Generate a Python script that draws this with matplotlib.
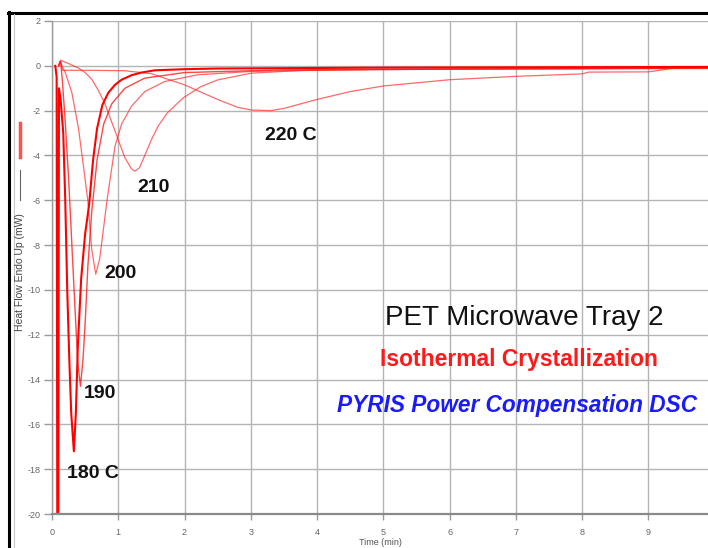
import matplotlib
matplotlib.use("Agg")
import matplotlib.pyplot as plt
from matplotlib.lines import Line2D

plt.rcParams['axes.unicode_minus'] = False
plt.rcParams['font.family'] = ['Liberation Sans', 'DejaVu Sans']

# ---- data ----
t180 = [0.05, 0.07, 0.08, 0.095, 0.105, 0.13, 0.17, 0.20, 0.23, 0.26, 0.29, 0.33, 0.36, 0.39, 0.44, 0.50,
        0.56, 0.62, 0.68, 0.76, 0.85, 0.95, 1.05, 1.2, 1.35, 1.55, 2.0, 2.5, 5.0, 9.9]
hf180 = [0.0, -0.5, -21, -21, -1.0, -1.5, -3.0, -6.0, -10.0, -13.0, -15.5, -17.2, -15.5, -12.5, -9.5, -7.5,
         -6.2, -4.2, -2.8, -1.75, -1.2, -0.85, -0.62, -0.42, -0.3, -0.2, -0.15, -0.12, -0.08, -0.05]

t190 = [0.10, 0.13, 0.16, 0.20, 0.25, 0.30, 0.35, 0.39, 0.43, 0.47, 0.50, 0.54, 0.60, 0.68, 0.78, 0.90,
        1.1, 1.4, 2.0, 3.5, 9.9]
hf190 = [0.0, 0.2, -0.8, -2.5, -5.0, -8.0, -11.0, -13.3, -14.3, -13.0, -11.5, -9.0, -6.5, -4.2, -2.6, -1.7,
         -1.0, -0.55, -0.3, -0.18, -0.1]

t200 = [0.10, 0.12, 0.20, 0.30, 0.40, 0.48, 0.54, 0.60, 0.66, 0.72, 0.78, 0.83, 0.90, 0.95, 1.05, 1.2,
        1.4, 1.7, 2.2, 3.0, 5.0, 9.9]
hf200 = [0.0, 0.2, -0.3, -1.2, -2.8, -4.6, -6.0, -8.2, -9.3, -8.6, -7.2, -6.0, -4.6, -3.6, -2.6, -1.8,
         -1.15, -0.7, -0.4, -0.25, -0.15, -0.1]

t210 = [0.10, 0.13, 0.25, 0.40, 0.50, 0.60, 0.70, 0.80, 0.90, 1.0, 1.1, 1.2, 1.25, 1.32, 1.4, 1.5, 1.6,
        1.74, 1.98, 2.24, 2.5, 3.0, 3.8, 6.0, 9.9]
hf210 = [0.0, 0.25, 0.1, -0.1, -0.3, -0.6, -1.1, -1.7, -2.5, -3.3, -4.1, -4.6, -4.7, -4.55, -4.0, -3.3, -2.7,
         -2.1, -1.43, -0.94, -0.63, -0.33, -0.2, -0.15, -0.12]

t220 = [0.10, 0.13, 0.16, 0.6, 1.1, 1.5, 2.0, 2.5, 2.8, 3.0, 3.3, 3.5, 4.0, 4.5, 5.0, 6.0, 7.0, 8.0, 8.1,
        9.0, 9.4, 9.9]
hf220 = [0.0, 0.2, -0.2, -0.2, -0.22, -0.35, -0.85, -1.5, -1.85, -1.97, -2.0, -1.9, -1.5, -1.15, -0.9,
         -0.62, -0.47, -0.36, -0.28, -0.27, -0.1, -0.08]

curve_labels = ["180 C", "190", "200", "210", "220 C"]
label_x = [0.62, 0.725, 1.04, 1.53, 3.61]
label_y = [-18.39, -14.82, -9.46, -5.62, -3.3]

xticks = [0, 1, 2, 3, 4, 5, 6, 7, 8, 9]
yticks = [2, 0, -2, -4, -6, -8, -10, -12, -14, -16, -18, -20]

# ---- figure ----
W, H = 708, 548
fig = plt.figure(figsize=(W / 100, H / 100), dpi=100)
ax = fig.add_axes([52 / W, (H - 514) / H, (708 - 52) / W, (514 - 21) / H])
ax.set_xlim(0, 9.9)
ax.set_ylim(-20, 2)

grid_c = '#b4b4b4'
ax.set_xticks(xticks)
ax.set_yticks(yticks)
ax.set_xticklabels([str(v) for v in xticks])
ax.set_yticklabels([str(v) for v in yticks])
ax.grid(True, color=grid_c, lw=1.0)
ax.set_axisbelow(True)
for s in ['top', 'right']:
    ax.spines[s].set_visible(False)
ax.spines['left'].set_color('#9a9a9a')
ax.spines['left'].set_linewidth(1.0)
ax.spines['bottom'].set_color('#8a8a8a')
ax.spines['bottom'].set_linewidth(1.6)
ax.tick_params(axis='y', length=6, width=1, color='#9a9a9a', labelsize=6.5, labelcolor='#666666', pad=2)
ax.tick_params(axis='x', length=4, width=1, color='#9a9a9a', labelsize=6.5, labelcolor='#666666', pad=6)
ax.set_xlabel('Time (min)', fontsize=6.5, color='#555555', labelpad=1)

thin = dict(color='#ff2a2a', lw=0.9, alpha=0.7)
ax.plot(t220, hf220, **thin)
ax.plot(t210, hf210, **thin)
ax.plot(t200, hf200, **thin)
ax.plot(t190, hf190, color='#ff1a1a', lw=1.0, alpha=0.8)
ax.plot(t180, hf180, color='#ff0000', lw=1.5)

for lab, x, y in zip(curve_labels, label_x, label_y):
    ax.text(x, y, lab, fontsize=14, fontweight='bold', color='#111111', ha='center', va='baseline')

ax.text(7.13, -11.57, 'PET Microwave Tray 2', fontsize=20, color='#111111', ha='center', va='baseline')
ax.text(7.04, -13.4, 'Isothermal Crystallization', fontsize=16.5, fontweight='bold', color='#ff1a1a',
        ha='center', va='baseline')
ax.text(7.02, -15.45, 'PYRIS Power Compensation DSC', fontsize=16.3, fontweight='bold', style='italic',
        color='#1a1aff', ha='center', va='baseline')

# y-axis label and legend marks (figure pixel positions)
def fx(px):
    return px / W

def fy(py):
    return 1 - py / H

fig.text(fx(20), fy(272), 'Heat Flow Endo Up (mW)', rotation=90, fontsize=7.5, color='#444444',
         ha='center', va='center')
fig.add_artist(Line2D([fx(20), fx(20)], [fy(170), fy(200)], color='#666666', lw=0.8))
fig.add_artist(Line2D([fx(20), fx(20)], [fy(123), fy(157)], color='#ff5050', lw=2.5))

# outer frame
fig.add_artist(Line2D([fx(8), fx(708)], [fy(13), fy(13)], color='black', lw=2.2))
fig.add_artist(Line2D([fx(8.5), fx(8.5)], [fy(12), fy(548)], color='black', lw=2.2))
fig.add_artist(Line2D([fx(14), fx(14)], [fy(14), fy(548)], color='#c8c8c8', lw=0.8))

fig.savefig('out.png', dpi=100)
